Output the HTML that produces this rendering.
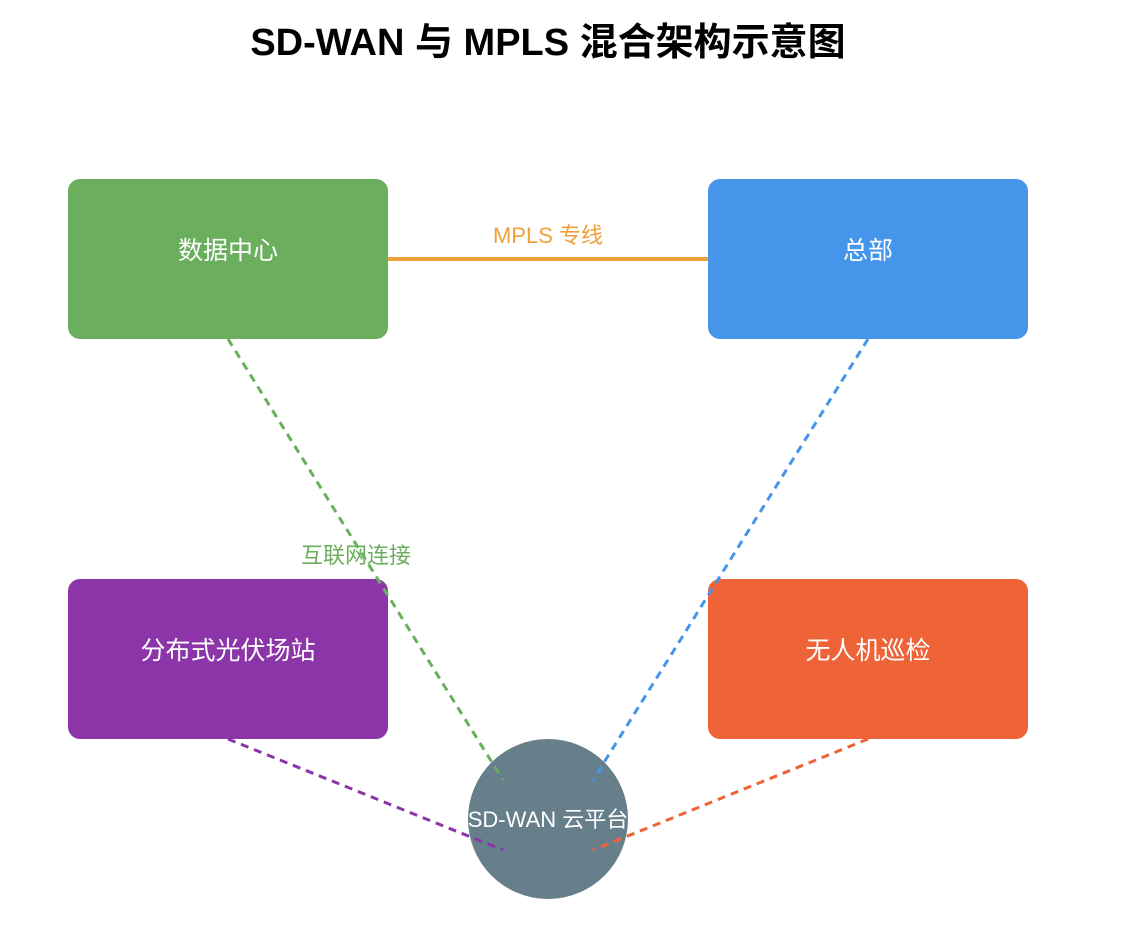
<!DOCTYPE html>
<html><head><meta charset="utf-8"><style>
html,body{margin:0;padding:0;background:#fff;width:1126px;height:934px;overflow:hidden}
svg{display:block}
text{font-family:"Liberation Sans","Noto Sans CJK SC",sans-serif}
</style></head><body>
<svg width="1126" height="934" viewBox="0 0 1126 934">
<text x="548" y="55" text-anchor="middle" font-size="38" font-weight="bold" fill="#000">SD-WAN 与 MPLS 混合架构示意图</text>
<rect x="68" y="179" width="320" height="160" rx="12" fill="#6aae5e"/>
<rect x="708" y="179" width="320" height="160" rx="12" fill="#4595ea"/>
<rect x="68" y="579" width="320" height="160" rx="12" fill="#8c35a8"/>
<rect x="708" y="579" width="320" height="160" rx="12" fill="#ee6337"/>
<circle cx="548" cy="819" r="80" fill="#667f8a"/>
<line x1="388" y1="259" x2="708" y2="259" stroke="#f0a03a" stroke-width="4"/>
<g stroke-width="3" stroke-dasharray="8,6" fill="none">
<line x1="228" y1="339" x2="503" y2="780" stroke="#6aae5e"/>
<line x1="868" y1="339" x2="593" y2="780" stroke="#4595ea"/>
<line x1="228" y1="739" x2="503" y2="850" stroke="#8c35a8"/>
<line x1="868" y1="739" x2="593" y2="850" stroke="#ee6337"/>
</g>
<g font-size="25" fill="#fff" text-anchor="middle">
<text x="228" y="259">数据中心</text>
<text x="868" y="259">总部</text>
<text x="228" y="659">分布式光伏场站</text>
<text x="868" y="659">无人机巡检</text>
<text x="548" y="827" font-size="22">SD-WAN 云平台</text>
</g>
<text x="548" y="243" text-anchor="middle" font-size="22" fill="#f0a03a">MPLS 专线</text>
<text x="356" y="563" text-anchor="middle" font-size="22" fill="#6aae5e">互联网连接</text>
</svg>
</body></html>
